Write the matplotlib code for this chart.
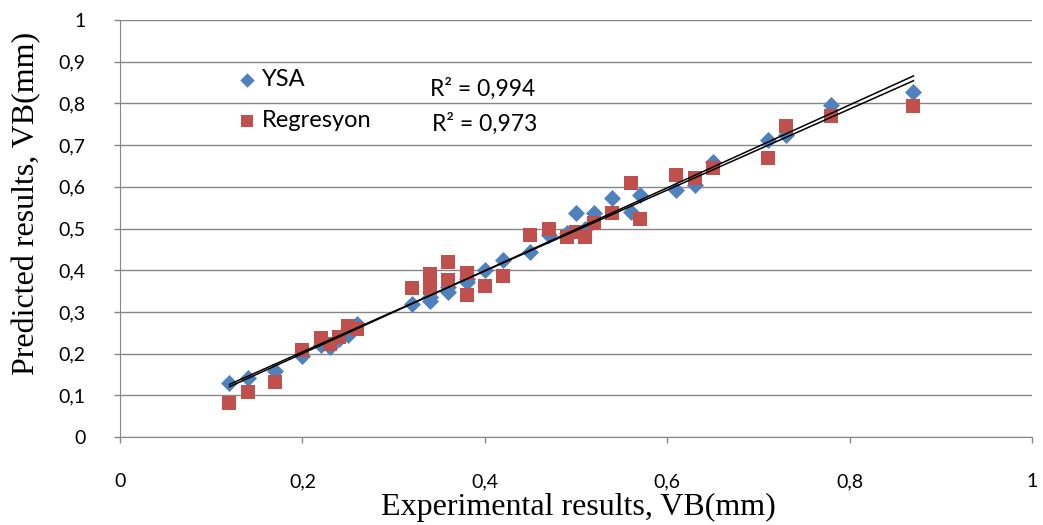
import numpy as np
import matplotlib
matplotlib.use('Agg')
import matplotlib.pyplot as plt

exp_vb = [0.12, 0.14, 0.17, 0.20, 0.22, 0.23, 0.24, 0.25, 0.26, 0.32, 0.34, 0.34,
          0.36, 0.36, 0.38, 0.38, 0.40, 0.42, 0.45, 0.47, 0.49, 0.50, 0.51, 0.52,
          0.54, 0.56, 0.57, 0.61, 0.63, 0.65, 0.71, 0.73, 0.78, 0.87]
ysa = [0.129, 0.141, 0.159, 0.195, 0.220, 0.217, 0.235, 0.245, 0.270, 0.320, 0.325, 0.335,
       0.348, 0.360, 0.372, 0.380, 0.400, 0.424, 0.444, 0.484, 0.490, 0.536, 0.500, 0.536,
       0.572, 0.540, 0.580, 0.592, 0.604, 0.660, 0.712, 0.724, 0.796, 0.828]
regresyon = [0.082, 0.107, 0.133, 0.209, 0.237, 0.222, 0.240, 0.265, 0.258, 0.357, 0.390, 0.357,
             0.420, 0.376, 0.393, 0.340, 0.363, 0.387, 0.484, 0.500, 0.480, 0.492, 0.480, 0.512,
             0.536, 0.608, 0.522, 0.628, 0.620, 0.644, 0.668, 0.746, 0.770, 0.794]
r2_labels = ["R² = 0,994", "R² = 0,973"]
ticks = [0, 0.2, 0.4, 0.6, 0.8, 1]
yticks = [0, 0.1, 0.2, 0.3, 0.4, 0.5, 0.6, 0.7, 0.8, 0.9, 1]

def fmt(v):
    return ("%g" % v).replace(".", ",")

x = np.array(exp_vb)

fig = plt.figure(figsize=(10.43, 5.25), dpi=100)
ax = fig.add_axes([120/1043, 88/525, 912/1043, 417/525])

ax.scatter(x, ysa, marker='D', s=75, color='#4F81BD', label='YSA', zorder=3, linewidths=0)
ax.scatter(x, regresyon, marker='s', s=105, color='#C0504D', label='Regresyon', zorder=4, linewidths=0)

# linear trendlines
for yv in (ysa, regresyon):
    k, b = np.polyfit(x, yv, 1)
    xs = np.array([x.min(), x.max()])
    ax.plot(xs, k*xs + b, color='black', lw=1.1, zorder=5)

ax.text(0.34, 0.835, r2_labels[0], fontsize=16.5, family='Lato', va='center')
ax.text(0.342, 0.751, r2_labels[1], fontsize=16.5, family='Lato', va='center')

ax.set_xlim(0, 1)
ax.set_ylim(0, 1)
ax.set_xticks(ticks)
ax.set_yticks(yticks)
ax.set_xticklabels([fmt(t) for t in ticks], family='Lato', fontsize=14)
ax.set_yticklabels([fmt(t) for t in yticks], family='Lato', fontsize=14)
ax.tick_params(colors='#868686', labelcolor='black', length=4, width=1)
ax.tick_params(axis='y', pad=21)
ax.tick_params(axis='x', pad=22)
ax.yaxis.grid(True, color='#868686', lw=1)
ax.set_axisbelow(True)
for s in ('top', 'right'):
    ax.spines[s].set_visible(False)
for s in ('left', 'bottom'):
    ax.spines[s].set_color('#868686')

ax.set_xlabel("Experimental results, VB(mm)", family='Liberation Serif', fontsize=23)
ax.set_ylabel("Predicted results, VB(mm)", family='Liberation Serif', fontsize=23)
ax.xaxis.set_label_coords(0.503, -0.17)
ax.xaxis.label.set_va('center')
ax.yaxis.set_label_coords(-0.102, 0.559)
ax.yaxis.label.set_va('center')

ax.legend(loc='upper left', bbox_to_anchor=(0.113, 0.91), frameon=False,
          prop={'family': 'Lato', 'size': 17}, handlelength=1.0, handletextpad=0.15,
          labelspacing=0.85, markerscale=0.85, borderpad=0)

plt.savefig('out.png')
